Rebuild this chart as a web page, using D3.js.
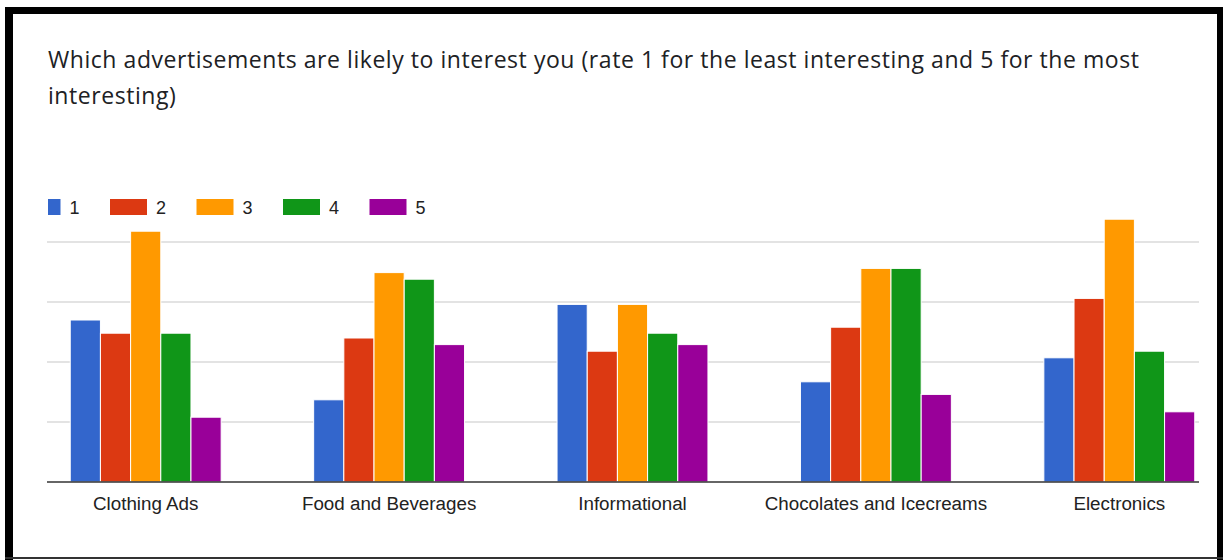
<!DOCTYPE html>
<html>
<head>
<meta charset="utf-8">
<script src="https://cdn.jsdelivr.net/npm/d3@7"></script>
<style>
  body { margin: 0; background: #fff; }
  svg { display: block; }
</style>
</head>
<body>
<svg id="chart" width="1223" height="560"></svg>
<script>
var titleLines = [
  "Which advertisements are likely to interest you (rate 1 for the least interesting and 5 for the most",
  "interesting)"
];
var categories = ["Clothing Ads", "Food and Beverages", "Informational", "Chocolates and Icecreams", "Electronics"];
var seriesNames = ["1", "2", "3", "4", "5"];
var colors = ["#3366cc", "#dc3912", "#ff9900", "#109618", "#990099"];
// one row per category, one value per rating
var values = [
  [27.0, 24.8, 41.8, 24.8, 10.8],
  [13.7, 24.0, 34.9, 33.8, 22.9],
  [29.6, 21.8, 29.6, 24.8, 22.9],
  [16.7, 25.8, 35.6, 35.6, 14.6],
  [20.7, 30.6, 43.8, 21.8, 11.7]
];
var gridTicks = [0, 10, 20, 30, 40];

var svg = d3.select("#chart");

// frame round the picture
svg.append("rect").attr("x", 5).attr("y", 7).attr("width", 8).attr("height", 553).attr("fill", "#000");
svg.append("rect").attr("x", 5).attr("y", 7).attr("width", 1218).attr("height", 7).attr("fill", "#000");
svg.append("rect").attr("x", 1217).attr("y", 7).attr("width", 6).attr("height", 553).attr("fill", "#000");
svg.append("rect").attr("x", 5).attr("y", 557).attr("width", 1218).attr("height", 2).attr("fill", "#333");

var title = svg.append("text")
  .attr("font-family", "Open Sans, Roboto, sans-serif")
  .attr("font-size", 23)
  .attr("letter-spacing", 0.55)
  .attr("fill", "#202124");
title.selectAll("tspan")
  .data(titleLines)
  .enter()
  .append("tspan")
  .attr("x", 48)
  .attr("y", function(d, i) { return 68 + i * 36; })
  .text(function(d) { return d; });

var plotLeft = 47, plotRight = 1199, plotTop = 242, plotBottom = 482;

var y = d3.scaleLinear().domain([0, 40]).range([plotBottom, plotTop]);

var x0 = d3.scaleBand()
  .domain(categories)
  .range([24, 1241])
  .paddingInner(0.38)
  .paddingOuter(0.19);

var x1 = d3.scaleBand()
  .domain(seriesNames)
  .range([0, x0.bandwidth()]);

// gridlines
svg.append("g")
  .selectAll("line")
  .data(gridTicks.slice(1))
  .enter()
  .append("line")
  .attr("x1", plotLeft)
  .attr("x2", plotRight)
  .attr("y1", function(d) { return y(d); })
  .attr("y2", function(d) { return y(d); })
  .attr("stroke", "#dadada")
  .attr("stroke-width", 1.5);

// bars
var groups = svg.append("g")
  .selectAll("g")
  .data(values)
  .enter()
  .append("g")
  .attr("transform", function(d, i) { return "translate(" + x0(categories[i]) + ",0)"; });

groups.selectAll("rect")
  .data(function(d) { return d; })
  .enter()
  .append("rect")
  .attr("x", function(d, i) { return x1(seriesNames[i]); })
  .attr("y", function(d) { return y(d); })
  .attr("width", x1.bandwidth())
  .attr("height", function(d) { return y(0) - y(d); })
  .attr("fill", function(d, i) { return colors[i]; })
  .attr("stroke", "#fff")
  .attr("stroke-width", 1);

// baseline
svg.append("line")
  .attr("x1", plotLeft).attr("x2", plotRight)
  .attr("y1", y(0)).attr("y2", y(0))
  .attr("stroke", "#333")
  .attr("stroke-width", 1.5);

// category labels
var xAxis = svg.append("g")
  .attr("transform", "translate(0," + y(0) + ")")
  .call(d3.axisBottom(x0).tickSize(0).tickPadding(0));
xAxis.select(".domain").remove();
xAxis.selectAll("text")
  .attr("dy", 0)
  .attr("y", 28)
  .attr("font-family", "Liberation Sans, Arial, sans-serif")
  .attr("font-size", 18.8)
  .attr("fill", "#222");

// legend, first swatch clipped at the plot edge as in the source
svg.append("clipPath").attr("id", "legclip")
  .append("rect").attr("x", plotLeft + 1).attr("y", 180).attr("width", 600).attr("height", 50);

var legend = svg.append("g").attr("clip-path", "url(#legclip)")
  .selectAll("g")
  .data(seriesNames)
  .enter()
  .append("g")
  .attr("transform", function(d, i) { return "translate(" + (23.5 + i * 86.5) + ",199)"; });

legend.append("rect")
  .attr("width", 37)
  .attr("height", 16)
  .attr("fill", function(d, i) { return colors[i]; });

legend.append("text")
  .attr("x", 46)
  .attr("y", 15)
  .attr("font-family", "Liberation Sans, Arial, sans-serif")
  .attr("font-size", 18)
  .attr("fill", "#222")
  .text(function(d) { return d; });
</script>
</body>
</html>
